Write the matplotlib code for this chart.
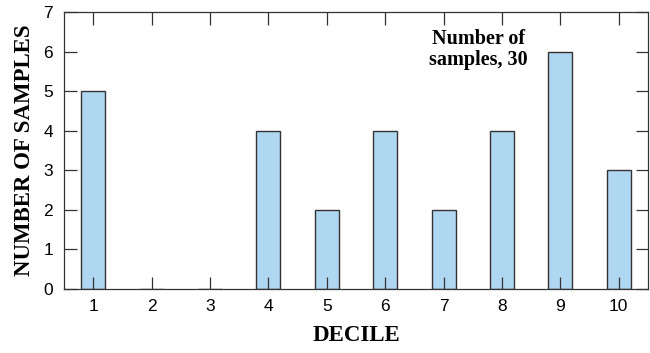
import matplotlib.pyplot as plt
from matplotlib import font_manager

deciles = [1, 2, 3, 4, 5, 6, 7, 8, 9, 10]
counts = [5, 0, 0, 4, 2, 4, 2, 4, 6, 3]
yticks = [0, 1, 2, 3, 4, 5, 6, 7]

names = {f.name for f in font_manager.fontManager.ttflist}
tick_font = 'Liberation Sans Narrow' if 'Liberation Sans Narrow' in names else 'Liberation Sans'
title_font = 'Liberation Serif'

fig = plt.figure(figsize=(6.5, 3.53), dpi=100)
ax = fig.add_axes([64/650, 1 - 289/353, (648-64)/650, (289-12)/353])

ax.bar(deciles, counts, width=0.41, color='#b0d7f2', edgecolor='#333333', linewidth=1.0, zorder=1)

ax.set_xlim(0.5, 10.5)
ax.set_ylim(0, 7)
ax.set_xticks(deciles)
ax.set_yticks(yticks)
ax.tick_params(direction='in', top=True, right=True, length=9, width=0.9, color='#333333',
               labelsize=12.5, zorder=5)
ax.tick_params(axis='y', pad=8)
ax.tick_params(axis='x', pad=7)
for lbl in ax.get_xticklabels() + ax.get_yticklabels():
    lbl.set_fontfamily(tick_font)
for s in ax.spines.values():
    s.set_color('#333333')
    s.set_linewidth(0.9)
ax.set_axisbelow(False)

ax.set_xlabel('DECILE', fontfamily=title_font, fontweight='bold', fontsize=16.5, labelpad=8)
ax.set_ylabel('NUMBER OF SAMPLES', fontfamily=title_font, fontweight='bold', fontsize=16.5, labelpad=6)

ax.text(7.6, 6.05, 'Number of\nsamples, 30', fontfamily=title_font, fontweight='bold', fontsize=14.5,
        ha='center', va='center', linespacing=1.05)

fig.savefig('out.png', dpi=100)
